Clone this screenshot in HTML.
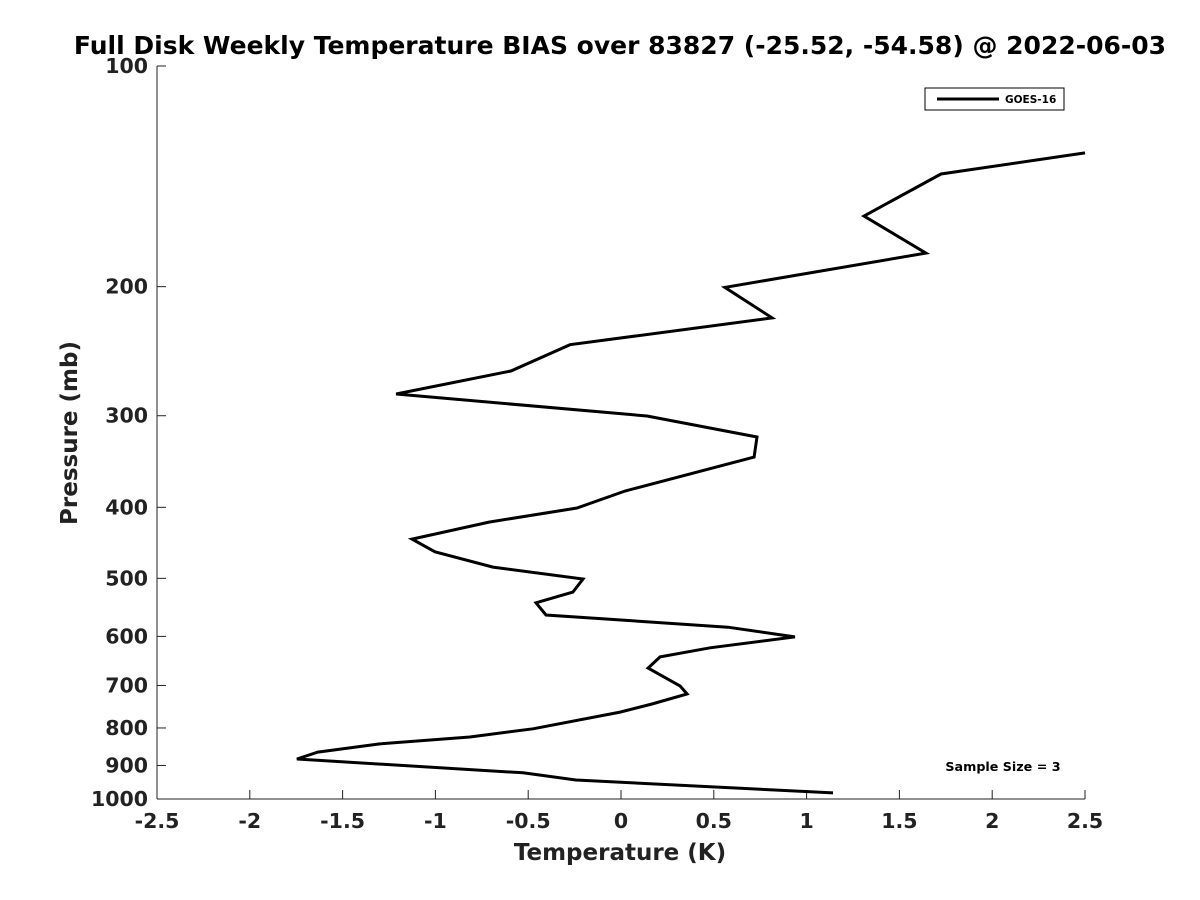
<!DOCTYPE html>
<html><head><meta charset="utf-8"><style>
html,body{margin:0;padding:0;background:#fff;}
svg{display:block;font-family:"DejaVu Sans","Liberation Sans",sans-serif;}
</style></head><body>
<svg id="chart" width="1200" height="900">
<text x="620" y="54" text-anchor="middle" font-size="25" font-weight="bold">Full Disk Weekly Temperature BIAS over 83827 (-25.52, -54.58) @ 2022-06-03</text>
<text x="620" y="860" text-anchor="middle" font-size="23" font-weight="bold" fill="#222">Temperature (K)</text>
<text transform="translate(77,433) rotate(-90)" text-anchor="middle" font-size="23" font-weight="bold" fill="#222">Pressure (mb)</text>
<g id="axes"></g>
<path id="series" fill="none" stroke="#000" stroke-width="3" stroke-linejoin="miter"></path>
<g>
<rect x="925" y="88" width="139" height="22" fill="#fff" stroke="#000" stroke-width="1"/>
<line x1="937" y1="99" x2="999" y2="99" stroke="#000" stroke-width="3"/>
<text x="1005" y="103" font-size="10.5" font-weight="bold">GOES-16</text>
</g>
<text x="1003" y="771" text-anchor="middle" font-size="12.7" font-weight="bold">Sample Size = 3</text>
</svg>
<script>
const xTicks=[-2.5,-2,-1.5,-1,-0.5,0,0.5,1,1.5,2,2.5];
const xTickLabels=["-2.5","-2","-1.5","-1","-0.5","0","0.5","1","1.5","2","2.5"];
const yTicks=[100,200,300,400,500,600,700,800,900,1000];
const temps=[2.5,1.724,1.309,1.643,0.56,0.814,-0.275,-0.593,-1.212,0.14,0.733,0.717,0.022,-0.237,-0.711,-1.126,-1.002,-0.69,-0.205,-0.259,-0.458,-0.404,0.576,0.937,0.48,0.21,0.146,0.318,0.356,0.167,-0.005,-0.474,-0.814,-1.3,-1.633,-1.746,-0.528,-0.243,1.142];
const pressures=[131.4,140.4,160.2,180,200.5,220.6,240,260.7,280.2,300.3,320.7,341.6,380,400.9,419,442,460,482.6,501,522,540,561,583,601,622,640,662.8,701,719,742,761,802,823,841,863,882,921,942,981];
const X0=157,X1=1085,Y0=66,Y1=799;
const xs=v=>X0+(v-(-2.5))/5*(X1-X0);
const ys=p=>Y0+(Math.log10(p)-2)*(Y1-Y0);
const ns="http://www.w3.org/2000/svg";
const ax=document.getElementById('axes');
function mk(t,a){const e=document.createElementNS(ns,t);for(const k in a)e.setAttribute(k,a[k]);ax.appendChild(e);return e;}
let l=mk('line',{x1:X0,y1:Y0,x2:X0,y2:Y1,stroke:'#222','stroke-width':1});


l=mk('line',{x1:X0,y1:Y1,x2:X1,y2:Y1,stroke:'#222','stroke-width':1});


xTicks.forEach((v,i)=>{
  mk('line',{x1:xs(v),y1:Y1,x2:xs(v),y2:Y1-9,stroke:'#222'});
  const t=mk('text',{x:xs(v),y:Y1+29,'text-anchor':'middle','font-size':20.5,'font-weight':'bold',fill:'#222'});
  t.textContent=xTickLabels[i];
  
  
});
yTicks.forEach(p=>{
  mk('line',{x1:X0,y1:ys(p),x2:X0+9,y2:ys(p),stroke:'#222'});
  const t=mk('text',{x:X0-9,y:ys(p)+7,'text-anchor':'end','font-size':20.5,'font-weight':'bold',fill:'#222'});
  t.textContent=String(p);
  
  
});
document.getElementById('series').setAttribute('d',temps.map((t,i)=>(i?'L':'M')+xs(t).toFixed(1)+' '+ys(pressures[i]).toFixed(1)).join(' '));
</script>
</body></html>
